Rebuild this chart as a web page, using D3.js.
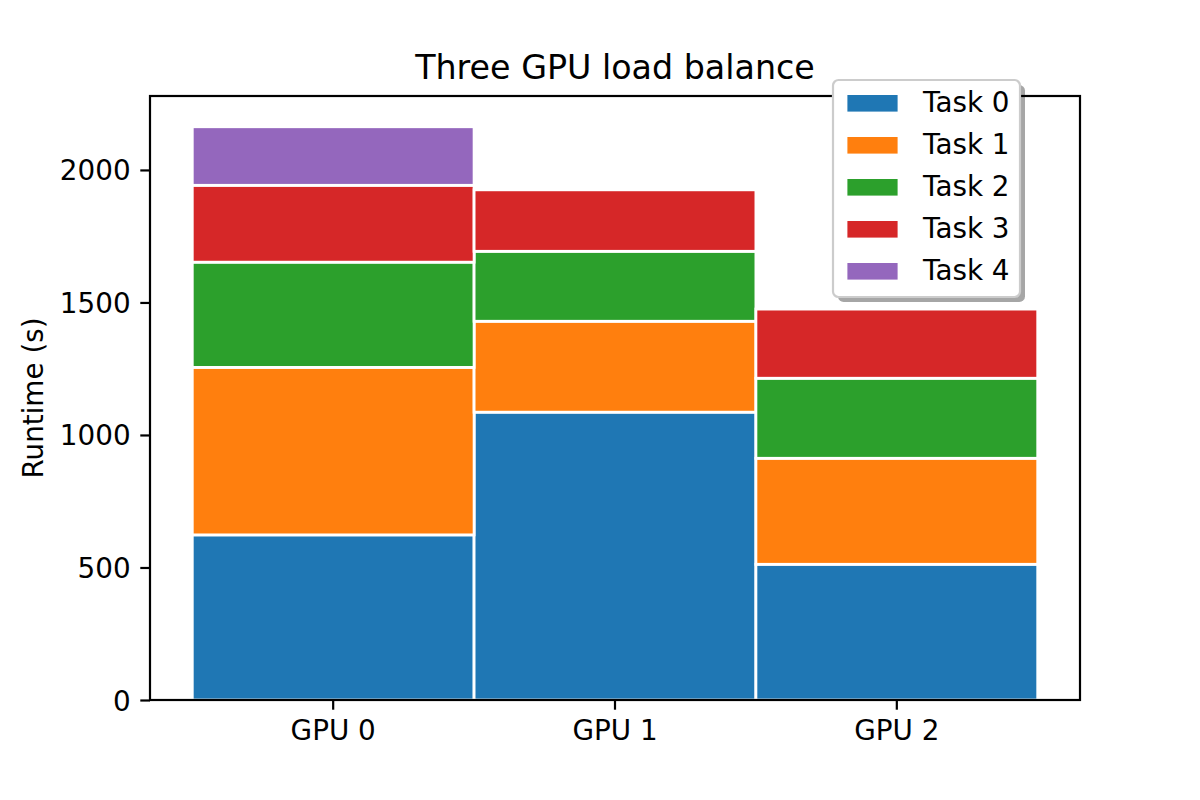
<!DOCTYPE html>
<html>
<head>
<meta charset="utf-8">
<script src="https://cdn.jsdelivr.net/npm/d3@7"></script>
<style>
  html, body { margin: 0; padding: 0; background: #fff; }
  svg text { font-family: "DejaVu Sans", sans-serif; fill: #000; }
</style>
</head>
<body>
<svg id="chart" width="1200" height="800"></svg>
<script>
// ---- data ----
const gpus = ["GPU 0", "GPU 1", "GPU 2"];
const tasks = ["Task 0", "Task 1", "Task 2", "Task 3", "Task 4"];
const task0 = [623, 1086, 512];
const task1 = [632, 343, 400];
const task2 = [397, 264, 302];
const task3 = [290, 232, 261];
const task4 = [221, 0, 0];
const yTicks = [0, 500, 1000, 1500, 2000];
const colors = ["#1f77b4", "#ff7f0e", "#2ca02c", "#d62728", "#9467bd"];
const title = "Three GPU load balance";
const yLabel = "Runtime (s)";

const series = [task0, task1, task2, task3, task4];

// ---- layout ----
const svg = d3.select("#chart");
const L = 150, R = 1080, T = 96, B = 700;
const fs = 27.8;

const x = d3.scaleBand().domain(gpus).range([L, R]).paddingInner(0).paddingOuter(0.15);
const y = d3.scaleLinear().domain([0, 2279]).range([B, T]);

// stacked data
const rows = gpus.map((g, i) => {
  const o = { gpu: g };
  tasks.forEach((t, j) => o[t] = series[j][i]);
  return o;
});
const stacked = d3.stack().keys(tasks)(rows);

const bars = svg.append("g");
stacked.forEach((layer, j) => {
  bars.selectAll(null).data(layer.filter(d => d[1] - d[0] > 0)).enter().append("rect")
    .attr("x", d => x(d.data.gpu))
    .attr("width", x.bandwidth())
    .attr("y", d => y(d[1]))
    .attr("height", d => y(d[0]) - y(d[1]))
    .attr("fill", colors[j])
    .attr("stroke", "#fff")
    .attr("stroke-width", 2.8);
});

// axes frame
svg.append("rect").attr("x", L).attr("y", T).attr("width", R - L).attr("height", B - T)
  .attr("fill", "none").attr("stroke", "#000").attr("stroke-width", 2.2);

// x axis
const xAxis = d3.axisBottom(x).tickSize(9.7).tickPadding(9.7);
const gx = svg.append("g").attr("transform", `translate(0,${B})`).call(xAxis);
gx.select(".domain").remove();
gx.selectAll(".tick line").attr("stroke", "#000").attr("stroke-width", 2.2);
gx.selectAll(".tick text").attr("font-size", fs).attr("font-family", "DejaVu Sans")
  .attr("dy", null).attr("y", 40);

// y axis
const yAxis = d3.axisLeft(y).tickValues(yTicks).tickFormat(d3.format("d")).tickSize(9.7).tickPadding(9.7);
const gy = svg.append("g").attr("transform", `translate(${L},0)`).call(yAxis);
gy.select(".domain").remove();
gy.selectAll(".tick line").attr("stroke", "#000").attr("stroke-width", 2.2);
gy.selectAll(".tick text").attr("font-size", fs).attr("font-family", "DejaVu Sans")
  .attr("dy", null).attr("y", 10);

// title
svg.append("text").attr("x", (L + R) / 2).attr("y", 79).attr("text-anchor", "middle")
  .attr("font-size", 33.3).text(title);

// y label
svg.append("text").attr("transform", `translate(42.5,${(T + B) / 2}) rotate(-90)`)
  .attr("text-anchor", "middle").attr("font-size", fs).text(yLabel);

// legend
const lg = svg.append("g");
const lx = 833, ly = 80, lw = 187, lh = 217;
lg.append("rect").attr("x", lx + 5).attr("y", ly + 5).attr("width", lw).attr("height", lh)
  .attr("rx", 5.6).attr("fill", "#000").attr("opacity", 0.35);
lg.append("rect").attr("x", lx).attr("y", ly).attr("width", lw).attr("height", lh)
  .attr("rx", 5.6).attr("fill", "#fff").attr("stroke", "#ccc").attr("stroke-width", 2.2);
tasks.forEach((t, j) => {
  const cy = 103.3 + j * 42;
  lg.append("rect").attr("x", 846).attr("y", cy - 9.7).attr("width", 53).attr("height", 19.4)
    .attr("fill", colors[j]).attr("stroke", "#fff").attr("stroke-width", 2.8);
  lg.append("text").attr("x", 923).attr("y", cy + 8.5).attr("font-size", fs).text(t);
});
</script>
</body>
</html>
